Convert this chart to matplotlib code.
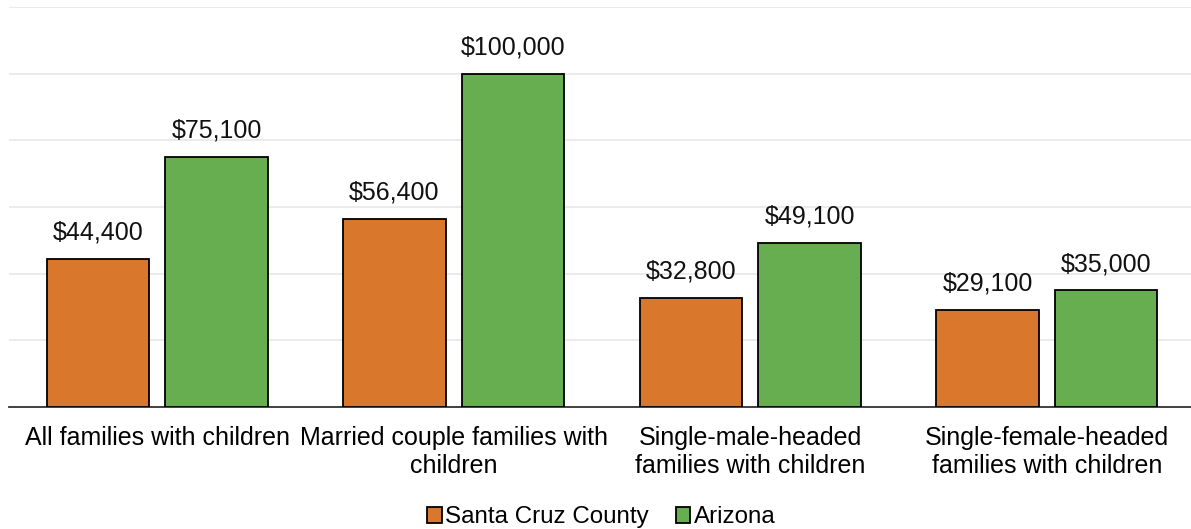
import numpy as np
import matplotlib.pyplot as plt
from matplotlib.ticker import MultipleLocator

plt.rcParams['font.family'] = ['Liberation Sans', 'DejaVu Sans']

categories = ["All families with children",
              "Married couple families with\nchildren",
              "Single-male-headed\nfamilies with children",
              "Single-female-headed\nfamilies with children"]
santa_cruz = [44400, 56400, 32800, 29100]
arizona = [75100, 100000, 49100, 35000]
series_names = ["Santa Cruz County", "Arizona"]

fs = 18

fig = plt.figure(figsize=(11.91, 5.29), dpi=100)
ax = fig.add_axes([0.0075, 0.2306, 0.996, 0.7562])

x = np.arange(len(categories))
w = 0.345
off = 0.2
b1 = ax.bar(x - off, santa_cruz, w, color="#D9782D", edgecolor="black", linewidth=1.3,
            label=series_names[0], zorder=3)
b2 = ax.bar(x + off, arizona, w, color="#67AE51", edgecolor="black", linewidth=1.3,
            label=series_names[1], zorder=3)

for bars, vals in ((b1, santa_cruz), (b2, arizona)):
    for rect, v in zip(bars, vals):
        ax.text(rect.get_x() + rect.get_width() / 2, v + 4300, f"${v:,.0f}",
                ha="center", va="bottom", fontsize=fs, color="#111111")

ax.set_xlim(-0.5, 3.5)
ax.set_ylim(0, 120000)
ax.yaxis.set_major_locator(MultipleLocator(20000))
ax.grid(axis="y", color="#ebebeb", linewidth=1.4, zorder=0)
ax.set_yticklabels([])
ax.tick_params(axis="y", length=0)
ax.tick_params(axis="x", length=0, pad=14, labelsize=fs)
ax.set_xticks(x)
ax.set_xticklabels(categories, linespacing=1.2)
for s in ("top", "right", "left"):
    ax.spines[s].set_visible(False)
ax.spines["bottom"].set_color("#333333")
ax.spines["bottom"].set_linewidth(1.3)

fig.legend(handles=[b1, b2], labels=series_names, loc="lower center",
           bbox_to_anchor=(0.505, -0.04), ncol=2, frameon=False, fontsize=17.4,
           handlelength=0.6, handleheight=0.6, handletextpad=0.15, columnspacing=1.1)

fig.savefig("out.png", dpi=100)
